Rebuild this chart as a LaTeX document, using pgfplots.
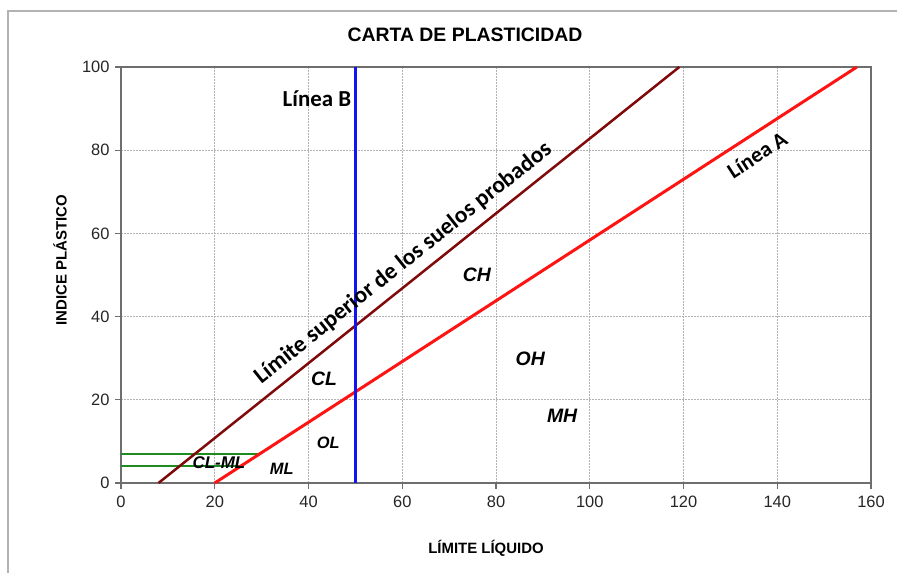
\documentclass[border=0pt]{standalone}
\usepackage{pgfplots}
\pgfplotsset{compat=1.18}
\usepackage{fontspec}
\setmainfont{Liberation Sans}
\newfontfamily\calibri{Carlito}
\definecolor{uline}{RGB}{128,10,10}
\definecolor{aline}{RGB}{255,20,20}
\definecolor{bline}{RGB}{20,20,240}
\definecolor{gline}{RGB}{30,140,30}
\definecolor{axgray}{RGB}{110,110,110}
\begin{document}
\begin{tikzpicture}[x=1bp,y=1bp]
\useasboundingbox (0,0) rectangle (897,573);
\draw[gray!60, line width=1.2bp] (8,0) -- (8,562) -- (897,562);
\node[font=\bfseries\fontsize{19.5}{21}\selectfont] at (465,538) {CARTA DE PLASTICIDAD};
\node[font=\bfseries\fontsize{15}{17}\selectfont] at (486,25) {LÍMITE LÍQUIDO};
\node[font=\bfseries\fontsize{15}{17}\selectfont, rotate=90] at (60,313) {INDICE PLÁSTICO};
\begin{axis}[
  at={(121bp,90bp)}, anchor=south west,
  scale only axis, width=750bp, height=416bp,
  xmin=0, xmax=160, ymin=0, ymax=100,
  xtick={0,20,...,160}, ytick={0,20,...,100},
  tick pos=left, tick align=outside,
  major tick length=6bp,
  grid=major,
  major grid style={gray!60, dash pattern=on 1.5bp off 1.5bp, line width=0.6bp},
  axis line style={axgray, line width=1.5bp},
  every tick/.style={axgray, line width=1.2bp},
  tick label style={font=\fontsize{16.5}{17}\selectfont, text=black!85},
  xticklabel style={yshift=-4bp},
  yticklabel style={xshift=-2bp},
  /pgf/number format/assume math mode=true,
  clip=false,
]
\addplot[gline, line width=2bp] coordinates {(0,7) (29.59,7)};
\addplot[gline, line width=2bp] coordinates {(0,4) (25.48,4)};
\addplot[uline, line width=2.5bp] coordinates {(8,0) (119.11,100)};
\addplot[aline, line width=3bp] coordinates {(20,0) (156.99,100)};
\addplot[bline, line width=3bp] coordinates {(50,0) (50,100)};

\node[font=\calibri\bfseries\fontsize{23}{24}\selectfont] at (axis cs:41.8,92.5) {Línea B};
\node[font=\calibri\bfseries\fontsize{23.5}{24}\selectfont, rotate=38.6] at (axis cs:60.2,52.9) {Límite superior de los suelos probados};
\node[font=\calibri\bfseries\fontsize{22}{24}\selectfont, rotate=32.9] at (axis cs:135.7,78.9) {Línea A};

\node[font=\bfseries\itshape\fontsize{19.5}{20}\selectfont] at (axis cs:75.9,50.0) {CH};
\node[font=\bfseries\itshape\fontsize{19.5}{20}\selectfont] at (axis cs:43.3,25.0) {CL};
\node[font=\bfseries\itshape\fontsize{19.5}{20}\selectfont] at (axis cs:87.3,29.8) {OH};
\node[font=\bfseries\itshape\fontsize{19.5}{20}\selectfont] at (axis cs:94.1,16.1) {MH};
\node[font=\bfseries\itshape\fontsize{16.5}{17}\selectfont] at (axis cs:44.2,9.6) {OL};
\node[font=\bfseries\itshape\fontsize{16.5}{17}\selectfont] at (axis cs:34.3,3.4) {ML};
\node[font=\bfseries\itshape\fontsize{17}{17}\selectfont] at (axis cs:20.9,5.0) {CL-ML};
\end{axis}
\end{tikzpicture}
\end{document}
